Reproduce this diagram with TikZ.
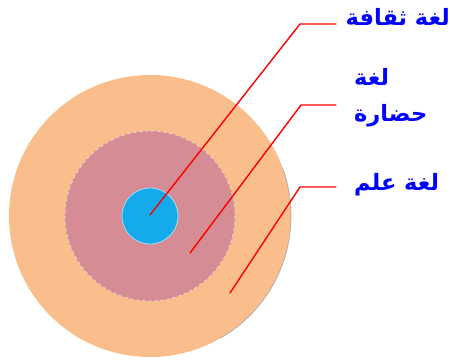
\documentclass[tikz,border=0pt]{standalone}
\usepackage{fontspec}
\newfontfamily\arabicfont[Script=Arabic]{DejaVu Sans}
\TeXXeTstate=1
\definecolor{peach}{RGB}{250,190,140}
\definecolor{rosy}{RGB}{214,140,148}
\definecolor{sky}{RGB}{20,170,235}
\tikzset{
  leader/.style={red,line width=1.4pt},
  tag/.style={anchor=west,inner sep=0pt,text=blue,align=left,
    font=\arabicfont\bfseries\fontsize{22.5}{36}\selectfont}
}
\begin{document}
\begin{tikzpicture}[x=1pt,y=-1pt,line cap=round,line join=round]
  \useasboundingbox (0,0) rectangle (451,362);
  \coordinate (O) at (150,216);
  \fill[peach] (O) circle[radius=141];
  \draw[gray!70,line width=0.6pt] (O) ++(-20:141) arc[start angle=-20, end angle=60, radius=141];
  \draw[rosy,fill=rosy] (O) circle[radius=85];
  \draw[white!80!brown,dashed,line width=0.6pt] (O) circle[radius=85];
  \draw[white!60!sky,fill=sky,line width=0.8pt] (O) circle[radius=28];
  % leader lines
  \coordinate (T1) at (150,215);
  \coordinate (K1) at (300,24);
  \coordinate (E1) at (336,24);
  \coordinate (T2) at (190,253);
  \coordinate (K2) at (301,105);
  \coordinate (E2) at (336,105);
  \coordinate (T3) at (230,293);
  \coordinate (K3) at (300,187);
  \coordinate (E3) at (336,187);
  \draw[leader] (T1) -- (K1) -- (E1);
  \draw[leader] (T2) -- (K2) -- (E2);
  \draw[leader] (T3) -- (K3) -- (E3);
  \node[tag,anchor=east] (culture) at (450,17) {\beginR لغة ثقافة\endR};
  \node[tag] (civil) at (354,98) {\beginR لغة\endR\\\beginR حضارة\endR};
  \node[tag] (science) at (354,185) {\beginR لغة علم\endR};
\end{tikzpicture}
\end{document}
